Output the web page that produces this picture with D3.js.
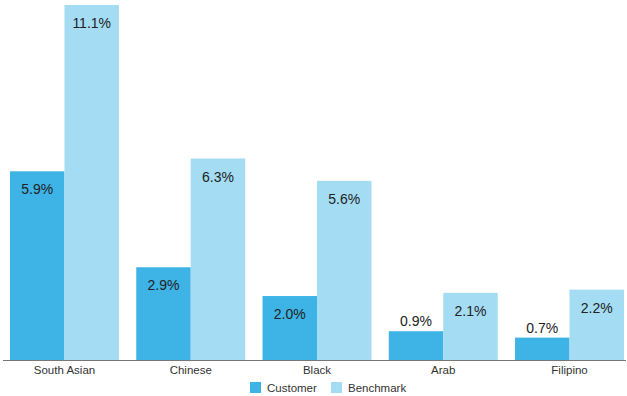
<!DOCTYPE html>
<html>
<head>
<meta charset="utf-8">
<script src="https://cdn.jsdelivr.net/npm/d3@7"></script>
<style>
  html, body { margin: 0; padding: 0; background: #fff; }
  svg { display: block; font-family: "Liberation Sans", Arial, Helvetica, sans-serif; }
</style>
</head>
<body>
<svg id="chart" width="627" height="396"></svg>
<script>
// Share of each group: customers vs. benchmark population (%)
const categories = ["South Asian", "Chinese", "Black", "Arab", "Filipino"];
const seriesNames = ["Customer", "Benchmark"];
const customerValues = [5.9, 2.9, 2.0, 0.9, 0.7];
const benchmarkValues = [11.1, 6.3, 5.6, 2.1, 2.2];
const seriesColors = ["#3db3e6", "#a3dcf3"];

const rows = categories.map((c, i) => ({
  category: c,
  values: [customerValues[i], benchmarkValues[i]]
}));

const svg = d3.select("#chart");
const baseY = 360;

const x0 = d3.scaleBand()
  .domain(categories)
  .range([10, 624])
  .paddingInner(0.137)
  .paddingOuter(0);

const x1 = d3.scaleBand()
  .domain(seriesNames)
  .range([0, x0.bandwidth()])
  .padding(0);

const y = d3.scaleLinear()
  .domain([0, 11.1])
  .range([baseY, 5]);

const color = d3.scaleOrdinal().domain(seriesNames).range(seriesColors);

const groups = svg.append("g")
  .selectAll("g")
  .data(rows)
  .join("g")
  .attr("transform", d => `translate(${x0(d.category)},0)`);

const cells = groups.selectAll("g")
  .data(d => seriesNames.map((s, j) => ({ series: s, value: d.values[j] })))
  .join("g");

cells.append("rect")
  .attr("x", d => x1(d.series))
  .attr("y", d => y(d.value))
  .attr("width", x1.bandwidth())
  .attr("height", d => baseY - y(d.value))
  .attr("fill", d => color(d.series));

// Value labels sit inside the bar top, or just above it when the bar is too short
cells.append("text")
  .attr("x", d => x1(d.series) + x1.bandwidth() / 2)
  .attr("y", d => (baseY - y(d.value) < 35) ? y(d.value) - 5 : y(d.value) + 23)
  .attr("text-anchor", "middle")
  .attr("font-size", 14)
  .attr("fill", "#222")
  .text(d => d.value.toFixed(1) + "%");

// Category axis
const xAxis = svg.append("g")
  .attr("transform", `translate(0,${baseY})`)
  .call(d3.axisBottom(x0).tickSize(0).tickPadding(6));
xAxis.select(".domain").remove();
xAxis.append("line")
  .attr("x1", 3).attr("x2", 626)
  .attr("y1", 0.5).attr("y2", 0.5)
  .attr("stroke", "#777").attr("stroke-width", 1);
xAxis.selectAll(".tick text")
  .attr("font-family", "Liberation Sans, Arial, sans-serif")
  .attr("font-size", 11.5)
  .attr("fill", "#333");

// Legend
const legend = svg.append("g").attr("transform", "translate(250,382)");
const legendOffsets = [0, 81];
seriesNames.forEach((s, i) => {
  const g = legend.append("g").attr("transform", `translate(${legendOffsets[i]},0)`);
  g.append("rect").attr("width", 11).attr("height", 11).attr("fill", color(s));
  g.append("text")
    .attr("x", 17).attr("y", 9.5)
    .attr("font-size", 11.5)
    .attr("fill", "#333")
    .text(s);
});
</script>
</body>
</html>
